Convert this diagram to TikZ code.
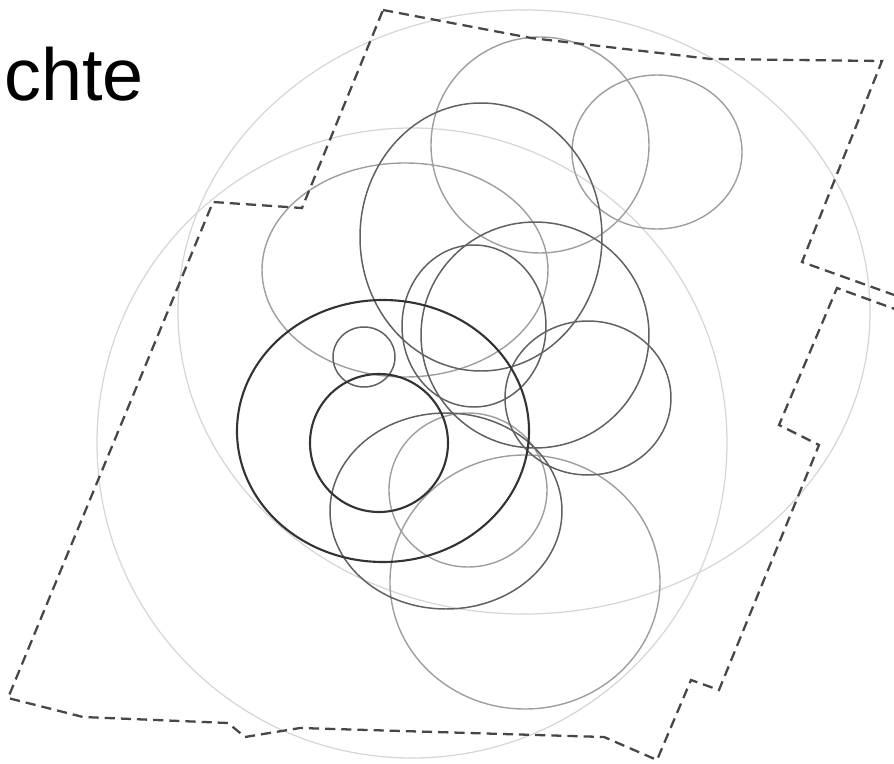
\documentclass[tikz,border=0pt]{standalone}
\usepackage{fontspec}
\setmainfont{Liberation Sans}
\tikzset{
  faint/.style  = {draw=black!16, line width=0.7pt},
  pale/.style   = {draw=black!38, line width=0.8pt},
  mid/.style    = {draw=black!62, line width=0.85pt},
  deep/.style   = {draw=black!80, line width=1.2pt},
  border/.style = {draw=black!72, line width=1.3pt, dash pattern=on 5.8pt off 3.4pt},
  lbl/.style    = {font=\fontsize{42}{42}\selectfont, inner sep=0pt, anchor=base west},
}
\begin{document}
\begin{tikzpicture}[x=0.02cm, y=-0.02cm]
  \useasboundingbox (0,0) rectangle (894,764);
  \clip (0,0) rectangle (894,764);
  % two large faint rings
  \foreach \cx/\cy/\rx/\ry in {524/312/346/302, 412/443/315/315}{
    \draw[faint] (\cx,\cy) ellipse [x radius=\rx, y radius=\ry];
  }
  % pale rings
  \foreach \cx/\cy/\rx/\ry in {540/145/109/108, 657/152/85/77, 405/270/143/107,
                               468/490/79/77, 525/582/135/127}{
    \draw[pale] (\cx,\cy) ellipse [x radius=\rx, y radius=\ry];
  }
  % middle rings
  \foreach \cx/\cy/\rx/\ry in {481/237/121/134, 474/326/72/81, 535/335/114/113,
                               588/398/83/77, 446/511/116/98, 364/357/31/30}{
    \draw[mid] (\cx,\cy) ellipse [x radius=\rx, y radius=\ry];
  }
  % dark rings
  \foreach \cx/\cy/\rx/\ry in {383/431/146/131, 379/443/69/69}{
    \draw[deep] (\cx,\cy) ellipse [x radius=\rx, y radius=\ry];
  }
  % dashed outline
  \draw[border] (383,10) -- (531,38) -- (711,59) -- (882,61) -- (802,262)
    -- (925,306) -- (925,320) -- (837,288) -- (779,425) -- (819,445)
    -- (719,690) -- (691,680) -- (657,760) -- (604,737) -- (300,728)
    -- (245,737) -- (228,723) -- (83,717) -- (8,698) -- (213,202)
    -- (302,208) -- cycle;
  \node[lbl] (title) at (4,100) {chte};
\end{tikzpicture}
\end{document}
